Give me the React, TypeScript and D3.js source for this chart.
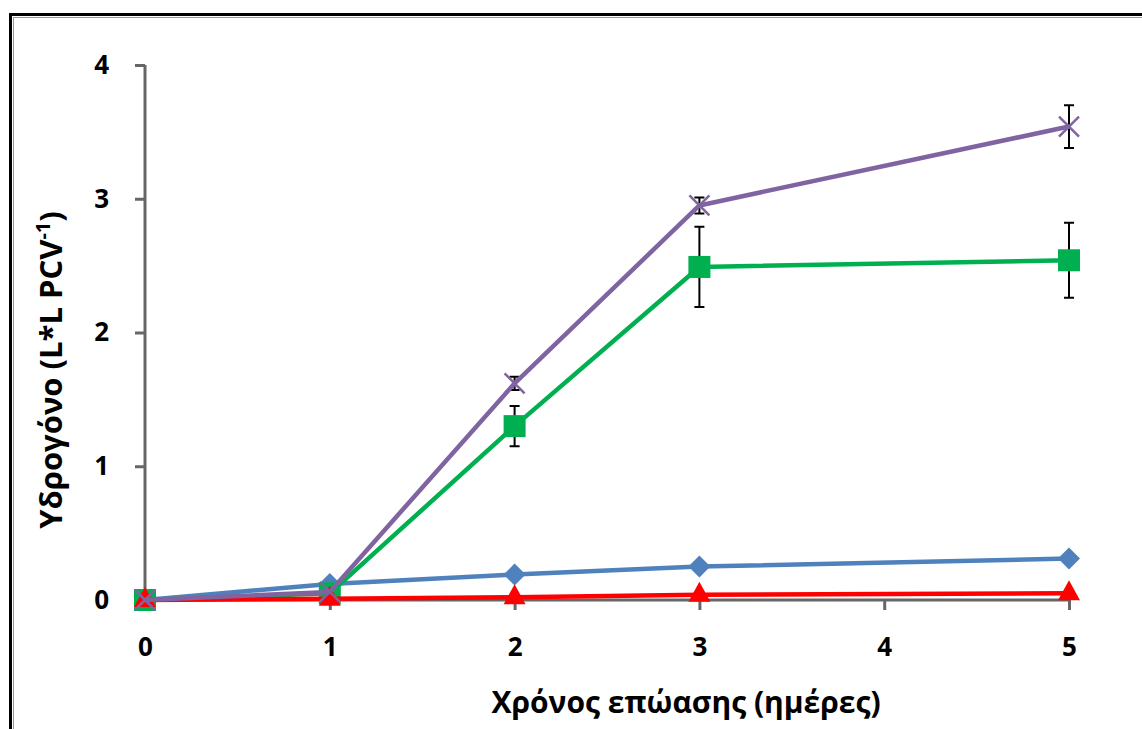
import React, { useRef, useEffect } from "react";
import * as d3 from "d3";

const days = [0, 1, 2, 3, 5];
const xTicks = [0, 1, 2, 3, 4, 5];
const yTicks = [0, 1, 2, 3, 4];

const blueVals = [0, 0.12, 0.19, 0.25, 0.31];
const blueErr = [0, 0.01, 0.02, 0.03, 0.02];
const greenVals = [0, 0.05, 1.3, 2.49, 2.54];
const greenErr = [0, 0.01, 0.15, 0.3, 0.28];
const redVals = [0, 0.01, 0.02, 0.04, 0.05];
const redErr = [0, 0, 0, 0, 0];
const purpleVals = [0, 0.06, 1.62, 2.95, 3.54];
const purpleErr = [0, 0.01, 0.05, 0.06, 0.16];

const xTitle = "Χρόνος επώασης (ημέρες)";

const series = [
  { name: "blue", values: blueVals, errors: blueErr, color: "#4F81BD", marker: "diamond" },
  { name: "green", values: greenVals, errors: greenErr, color: "#00B050", marker: "square" },
  { name: "red", values: redVals, errors: redErr, color: "#FF0000", marker: "triangle" },
  { name: "purple", values: purpleVals, errors: purpleErr, color: "#8064A2", marker: "cross" },
];

const App: React.FC = () => {
  const ref = useRef<SVGSVGElement>(null);

  useEffect(() => {
    if (!ref.current) return;
    const svg = d3.select(ref.current);
    svg.selectAll("*").remove();

    const font = "'Open Sans', 'Liberation Sans', sans-serif";
    const axisColor = "#666666";

    // frame
    svg.append("rect").attr("x", 0).attr("y", 0).attr("width", 1142).attr("height", 729).attr("fill", "#fff");
    svg.append("rect")
      .attr("x", 10.5).attr("y", 14.5).attr("width", 1150).attr("height", 730)
      .attr("fill", "none").attr("stroke", "#000").attr("stroke-width", 3);
    svg.append("rect")
      .attr("x", 13.5).attr("y", 17.5).attr("width", 1150).attr("height", 730)
      .attr("fill", "none").attr("stroke", "#999").attr("stroke-width", 1);

    const x = d3.scaleLinear().domain([0, 5]).range([145, 1069]);
    const y = d3.scaleLinear().domain([0, 4]).range([600, 65]);

    // y axis
    const yAxis = svg.append("g").attr("transform", "translate(145,0)")
      .call(d3.axisLeft(y).tickValues(yTicks).tickSize(10).tickPadding(26).tickFormat(d3.format("d")));
    yAxis.select(".domain").attr("stroke", axisColor).attr("stroke-width", 3)
      .attr("d", `M0,${y(4)}V${y(0)}`);
    yAxis.selectAll(".tick line").attr("stroke", axisColor).attr("stroke-width", 3);
    yAxis.selectAll(".tick text").attr("fill", "#000").attr("font-size", 26)
      .attr("font-weight", "bold").attr("font-family", font);

    // x axis
    const xAxis = svg.append("g").attr("transform", "translate(0,600)")
      .call(d3.axisBottom(x).tickValues(xTicks).tickSize(10).tickPadding(28).tickFormat(d3.format("d")));
    xAxis.select(".domain").attr("stroke", axisColor).attr("stroke-width", 3)
      .attr("d", `M${x(0)},0H${x(5)}`);
    xAxis.selectAll(".tick line").attr("stroke", axisColor).attr("stroke-width", 3);
    xAxis.selectAll(".tick text").attr("fill", "#000").attr("font-size", 26)
      .attr("font-weight", "bold").attr("font-family", font);

    // titles
    svg.append("text").attr("x", 686).attr("y", 713).attr("text-anchor", "middle")
      .attr("font-size", 30).attr("font-weight", "bold").attr("font-family", font).text(xTitle);

    const yt = svg.append("text").attr("transform", "translate(62,370) rotate(-90)")
      .attr("text-anchor", "middle").attr("font-size", 31).attr("font-weight", "bold").attr("font-family", font);
    yt.append("tspan").text("Υδρογόνο (L*L PCV");
    yt.append("tspan").attr("font-size", 20).attr("dy", -12).text("-1");
    yt.append("tspan").attr("dy", 12).text(")");

    const line = d3.line<number>().x((_, i) => x(days[i])).y((d) => y(d));

    series.forEach((s) => {
      const g = svg.append("g");
      // error bars
      s.values.forEach((v, i) => {
        const e = s.errors[i];
        if (e <= 0.015) return;
        const cx = x(days[i]);
        g.append("path")
          .attr("d", `M${cx - 5},${y(v + e)}H${cx + 5}M${cx},${y(v + e)}V${y(v - e)}M${cx - 5},${y(v - e)}H${cx + 5}`)
          .attr("stroke", "#000").attr("stroke-width", 2).attr("fill", "none");
      });
      g.append("path").datum(s.values).attr("d", line)
        .attr("fill", "none").attr("stroke", s.color).attr("stroke-width", 4.5).attr("stroke-linejoin", "round");

      s.values.forEach((v, i) => {
        const cx = x(days[i]);
        const cy = y(v);
        if (s.marker === "square") {
          g.append("rect").attr("x", cx - 11).attr("y", cy - 11).attr("width", 22).attr("height", 22)
            .attr("fill", s.color);
        } else if (s.marker === "diamond") {
          g.append("path").attr("d", `M${cx},${cy - 11}L${cx + 11},${cy}L${cx},${cy + 11}L${cx - 11},${cy}Z`)
            .attr("fill", s.color);
        } else if (s.marker === "triangle") {
          g.append("path").attr("d", `M${cx},${cy - 13}L${cx + 11},${cy + 7}L${cx - 11},${cy + 7}Z`)
            .attr("fill", s.color);
        } else {
          g.append("path")
            .attr("d", `M${cx - 10},${cy - 10}L${cx + 10},${cy + 10}M${cx - 10},${cy + 10}L${cx + 10},${cy - 10}`)
            .attr("stroke", s.color).attr("stroke-width", 2.5);
        }
      });
    });
  }, []);

  return (
    <div style={{ position: "absolute", left: 0, top: 0 }}>
      <svg ref={ref} width={1142} height={729} style={{ display: "block" }} />
    </div>
  );
};

export default App;
